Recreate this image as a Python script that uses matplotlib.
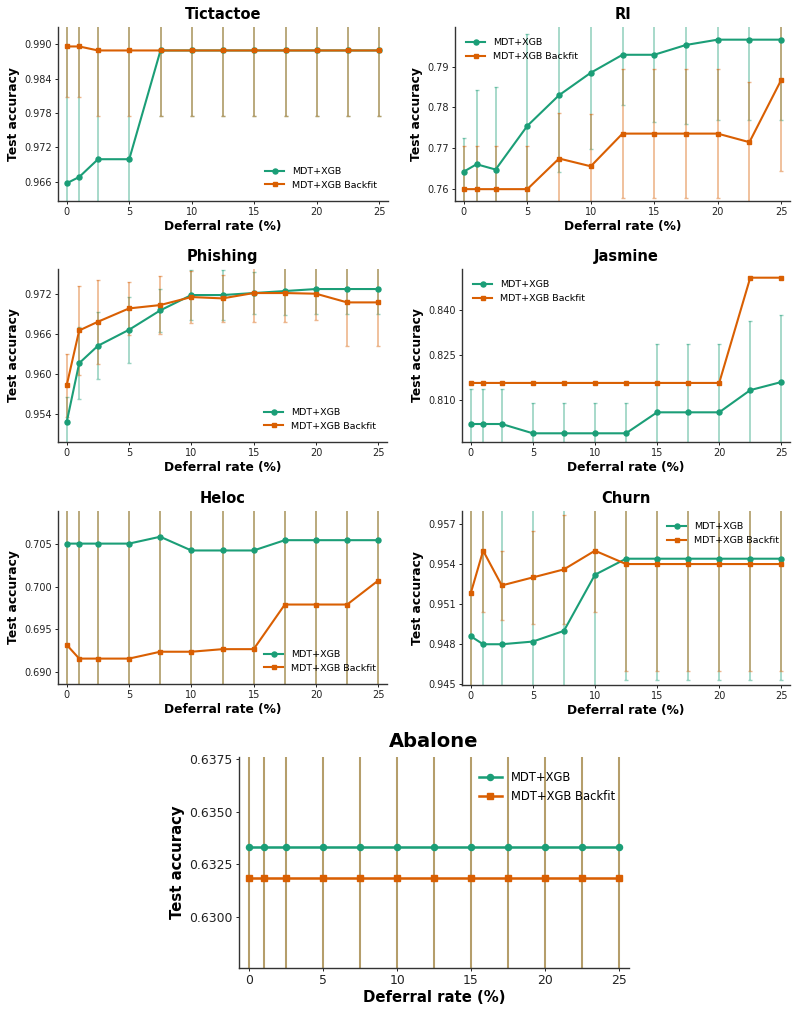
import matplotlib
matplotlib.use("Agg")
import matplotlib.pyplot as plt
from matplotlib.ticker import FormatStrFormatter

GREEN = "#1b9e77"
ORANGE = "#d95f02"

deferral = [0, 1, 2.5, 5, 7.5, 10, 12.5, 15, 17.5, 20, 22.5, 25]

# mean test accuracy and std for each dataset
tictactoe_mdt = [0.9657, 0.9668, 0.9699, 0.9699, 0.9889, 0.9889, 0.9889, 0.9889, 0.9889, 0.9889, 0.9889, 0.9889]
tictactoe_mdt_std = [0.030, 0.030, 0.025, 0.025, 0.0115, 0.0115, 0.0115, 0.0115, 0.0115, 0.0115, 0.0115, 0.0115]
tictactoe_backfit = [0.9896, 0.9896, 0.9889, 0.9889, 0.9889, 0.9889, 0.9889, 0.9889, 0.9889, 0.9889, 0.9889, 0.9889]
tictactoe_backfit_std = [0.0089, 0.0089, 0.0115, 0.0115, 0.0115, 0.0115, 0.0115, 0.0115, 0.0115, 0.0115, 0.0115, 0.0115]

ri_mdt = [0.7643, 0.7661, 0.7648, 0.7755, 0.7830, 0.7885, 0.7929, 0.7929, 0.7953, 0.7966, 0.7966, 0.7966]
ri_mdt_std = [0.0082, 0.0182, 0.0201, 0.0225, 0.0189, 0.0186, 0.0124, 0.0165, 0.0193, 0.0197, 0.0197, 0.0197]
ri_backfit = [0.7600, 0.7600, 0.7600, 0.7600, 0.7675, 0.7656, 0.7736, 0.7736, 0.7736, 0.7736, 0.7715, 0.7867]
ri_backfit_std = [0.0106, 0.0106, 0.0106, 0.0106, 0.0112, 0.0128, 0.0158, 0.0158, 0.0158, 0.0158, 0.0147, 0.0222]

phishing_mdt = [0.9528, 0.9616, 0.9642, 0.9666, 0.9695, 0.9718, 0.9718, 0.9721, 0.9724, 0.9727, 0.9727, 0.9727]
phishing_mdt_std = [0.0038, 0.0054, 0.0050, 0.0049, 0.0032, 0.00375, 0.00375, 0.0032, 0.0036, 0.0038, 0.0038, 0.0038]
phishing_backfit = [0.9583, 0.9665, 0.9678, 0.9698, 0.9703, 0.9715, 0.9713, 0.9721, 0.9721, 0.9720, 0.9707, 0.9707]
phishing_backfit_std = [0.0047, 0.0066, 0.0063, 0.0040, 0.0044, 0.0039, 0.0035, 0.0043, 0.0044, 0.0040, 0.0065, 0.0065]

jasmine_mdt = [0.8021, 0.8021, 0.8021, 0.7990, 0.7990, 0.7990, 0.7990, 0.8060, 0.8060, 0.8060, 0.8134, 0.8161]
jasmine_mdt_std = [0.0116, 0.0116, 0.0116, 0.0102, 0.0102, 0.0102, 0.0102, 0.0227, 0.0227, 0.0227, 0.0230, 0.0223]
jasmine_backfit = [0.8158, 0.8158, 0.8158, 0.8158, 0.8158, 0.8158, 0.8158, 0.8158, 0.8158, 0.8158, 0.8509, 0.8509]
jasmine_backfit_std = [0.0] * 12

heloc_mdt = [0.7050, 0.7050, 0.7050, 0.7050, 0.7058, 0.7042, 0.7042, 0.7042, 0.7054, 0.7054, 0.7054, 0.7054]
heloc_mdt_std = [0.03] * 12
heloc_backfit = [0.6932, 0.6916, 0.6916, 0.6916, 0.6924, 0.6924, 0.6927, 0.6927, 0.6979, 0.6979, 0.6979, 0.7007]
heloc_backfit_std = [0.03] * 12

churn_mdt = [0.9486, 0.9480, 0.9480, 0.9482, 0.9490, 0.9532, 0.9544, 0.9544, 0.9544, 0.9544, 0.9544, 0.9544]
churn_mdt_std = [0.012, 0.012, 0.012, 0.012, 0.012, 0.012, 0.0091, 0.0091, 0.0091, 0.0091, 0.0091, 0.0091]
churn_backfit = [0.9518, 0.9550, 0.9524, 0.9530, 0.9536, 0.9550, 0.9540, 0.9540, 0.9540, 0.9540, 0.9540, 0.9540]
churn_backfit_std = [0.012, 0.0046, 0.0026, 0.0035, 0.0041, 0.0046, 0.0080, 0.0080, 0.0080, 0.0080, 0.0080, 0.0080]

abalone_mdt = [0.6333] * 12
abalone_mdt_std = [0.02] * 12
abalone_backfit = [0.63185] * 12
abalone_backfit_std = [0.02] * 12

W, H = 797, 1014


def add_panel(fig, box, title, mdt, mdt_std, backfit, backfit_std, ylim, yticks, fmt,
              legend_loc, big=False):
    x0, y0, x1, y1 = box
    ax = fig.add_axes([x0 / W, 1 - y1 / H, (x1 - x0) / W, (y1 - y0) / H])
    s = 1.22 if big else 1.0
    lw = 1.5 * s
    ms = 3.6 * s

    for mean, std, color in ((mdt, mdt_std, GREEN), (backfit, backfit_std, ORANGE)):
        ax.errorbar(deferral, mean, yerr=std, fmt="none", ecolor=color, alpha=0.45,
                    elinewidth=1.2 * s, capsize=1.5 * s, capthick=1.0)
    ax.plot(deferral, mdt, color=GREEN, marker="o", lw=lw, ms=ms, label="MDT+XGB", zorder=3)
    ax.plot(deferral, backfit, color=ORANGE, marker="s", lw=lw, ms=ms * 0.95,
            label="MDT+XGB Backfit", zorder=3)

    ax.set_xlim(-0.7, 25.7)
    ax.set_ylim(*ylim)
    ax.set_xticks([0, 5, 10, 15, 20, 25])
    ax.set_yticks(yticks)
    ax.yaxis.set_major_formatter(FormatStrFormatter(fmt))
    ax.set_title(title, fontsize=10.5 * s * (1.1 if big else 1), fontweight="bold", pad=6 * s)
    ax.set_xlabel("Deferral rate (%)", fontsize=8.8 * s, fontweight="bold", labelpad=2)
    ax.set_ylabel("Test accuracy", fontsize=8.8 * s, fontweight="bold", labelpad=3)
    ax.tick_params(labelsize=7 * (1.28 if big else 1), length=2.5, width=0.7, colors="#222222", pad=2)
    for side in ("top", "right"):
        ax.spines[side].set_visible(False)
    for side in ("left", "bottom"):
        ax.spines[side].set_color("#333333")
        ax.spines[side].set_linewidth(1.0)
    ax.legend(loc=legend_loc, frameon=False, fontsize=6.8 * s, handlelength=2.0,
              borderaxespad=0.8)
    return ax


fig = plt.figure(figsize=(W / 100, H / 100), dpi=100)

add_panel(fig, (58, 27, 388, 201), "Tictactoe", tictactoe_mdt, tictactoe_mdt_std,
          tictactoe_backfit, tictactoe_backfit_std, (0.9626, 0.9930),
          [0.966, 0.972, 0.978, 0.984, 0.990], "%.3f", "lower right")
add_panel(fig, (455, 27, 790, 201), "RI", ri_mdt, ri_mdt_std, ri_backfit, ri_backfit_std,
          (0.7571, 0.7997), [0.76, 0.77, 0.78, 0.79], "%.2f", "upper left")
add_panel(fig, (58, 269, 387, 442), "Phishing", phishing_mdt, phishing_mdt_std,
          phishing_backfit, phishing_backfit_std, (0.9498, 0.9757),
          [0.954, 0.960, 0.966, 0.972], "%.3f", "lower right")
add_panel(fig, (462, 269, 790, 442), "Jasmine", jasmine_mdt, jasmine_mdt_std,
          jasmine_backfit, jasmine_backfit_std, (0.7961, 0.8538),
          [0.810, 0.825, 0.840], "%.3f", "upper left")
add_panel(fig, (58, 511, 387, 684), "Heloc", heloc_mdt, heloc_mdt_std,
          heloc_backfit, heloc_backfit_std, (0.68864, 0.7088),
          [0.690, 0.695, 0.700, 0.705], "%.3f", "lower right")
add_panel(fig, (462, 511, 790, 685), "Churn", churn_mdt, churn_mdt_std,
          churn_backfit, churn_backfit_std, (0.94495, 0.95797),
          [0.945, 0.948, 0.951, 0.954, 0.957], "%.3f", "upper right")
add_panel(fig, (239, 757, 629, 968), "Abalone", abalone_mdt, abalone_mdt_std,
          abalone_backfit, abalone_backfit_std, (0.62758, 0.63759),
          [0.6300, 0.6325, 0.6350, 0.6375], "%.4f", "upper right", big=True)

fig.savefig("out.png", dpi=100)
